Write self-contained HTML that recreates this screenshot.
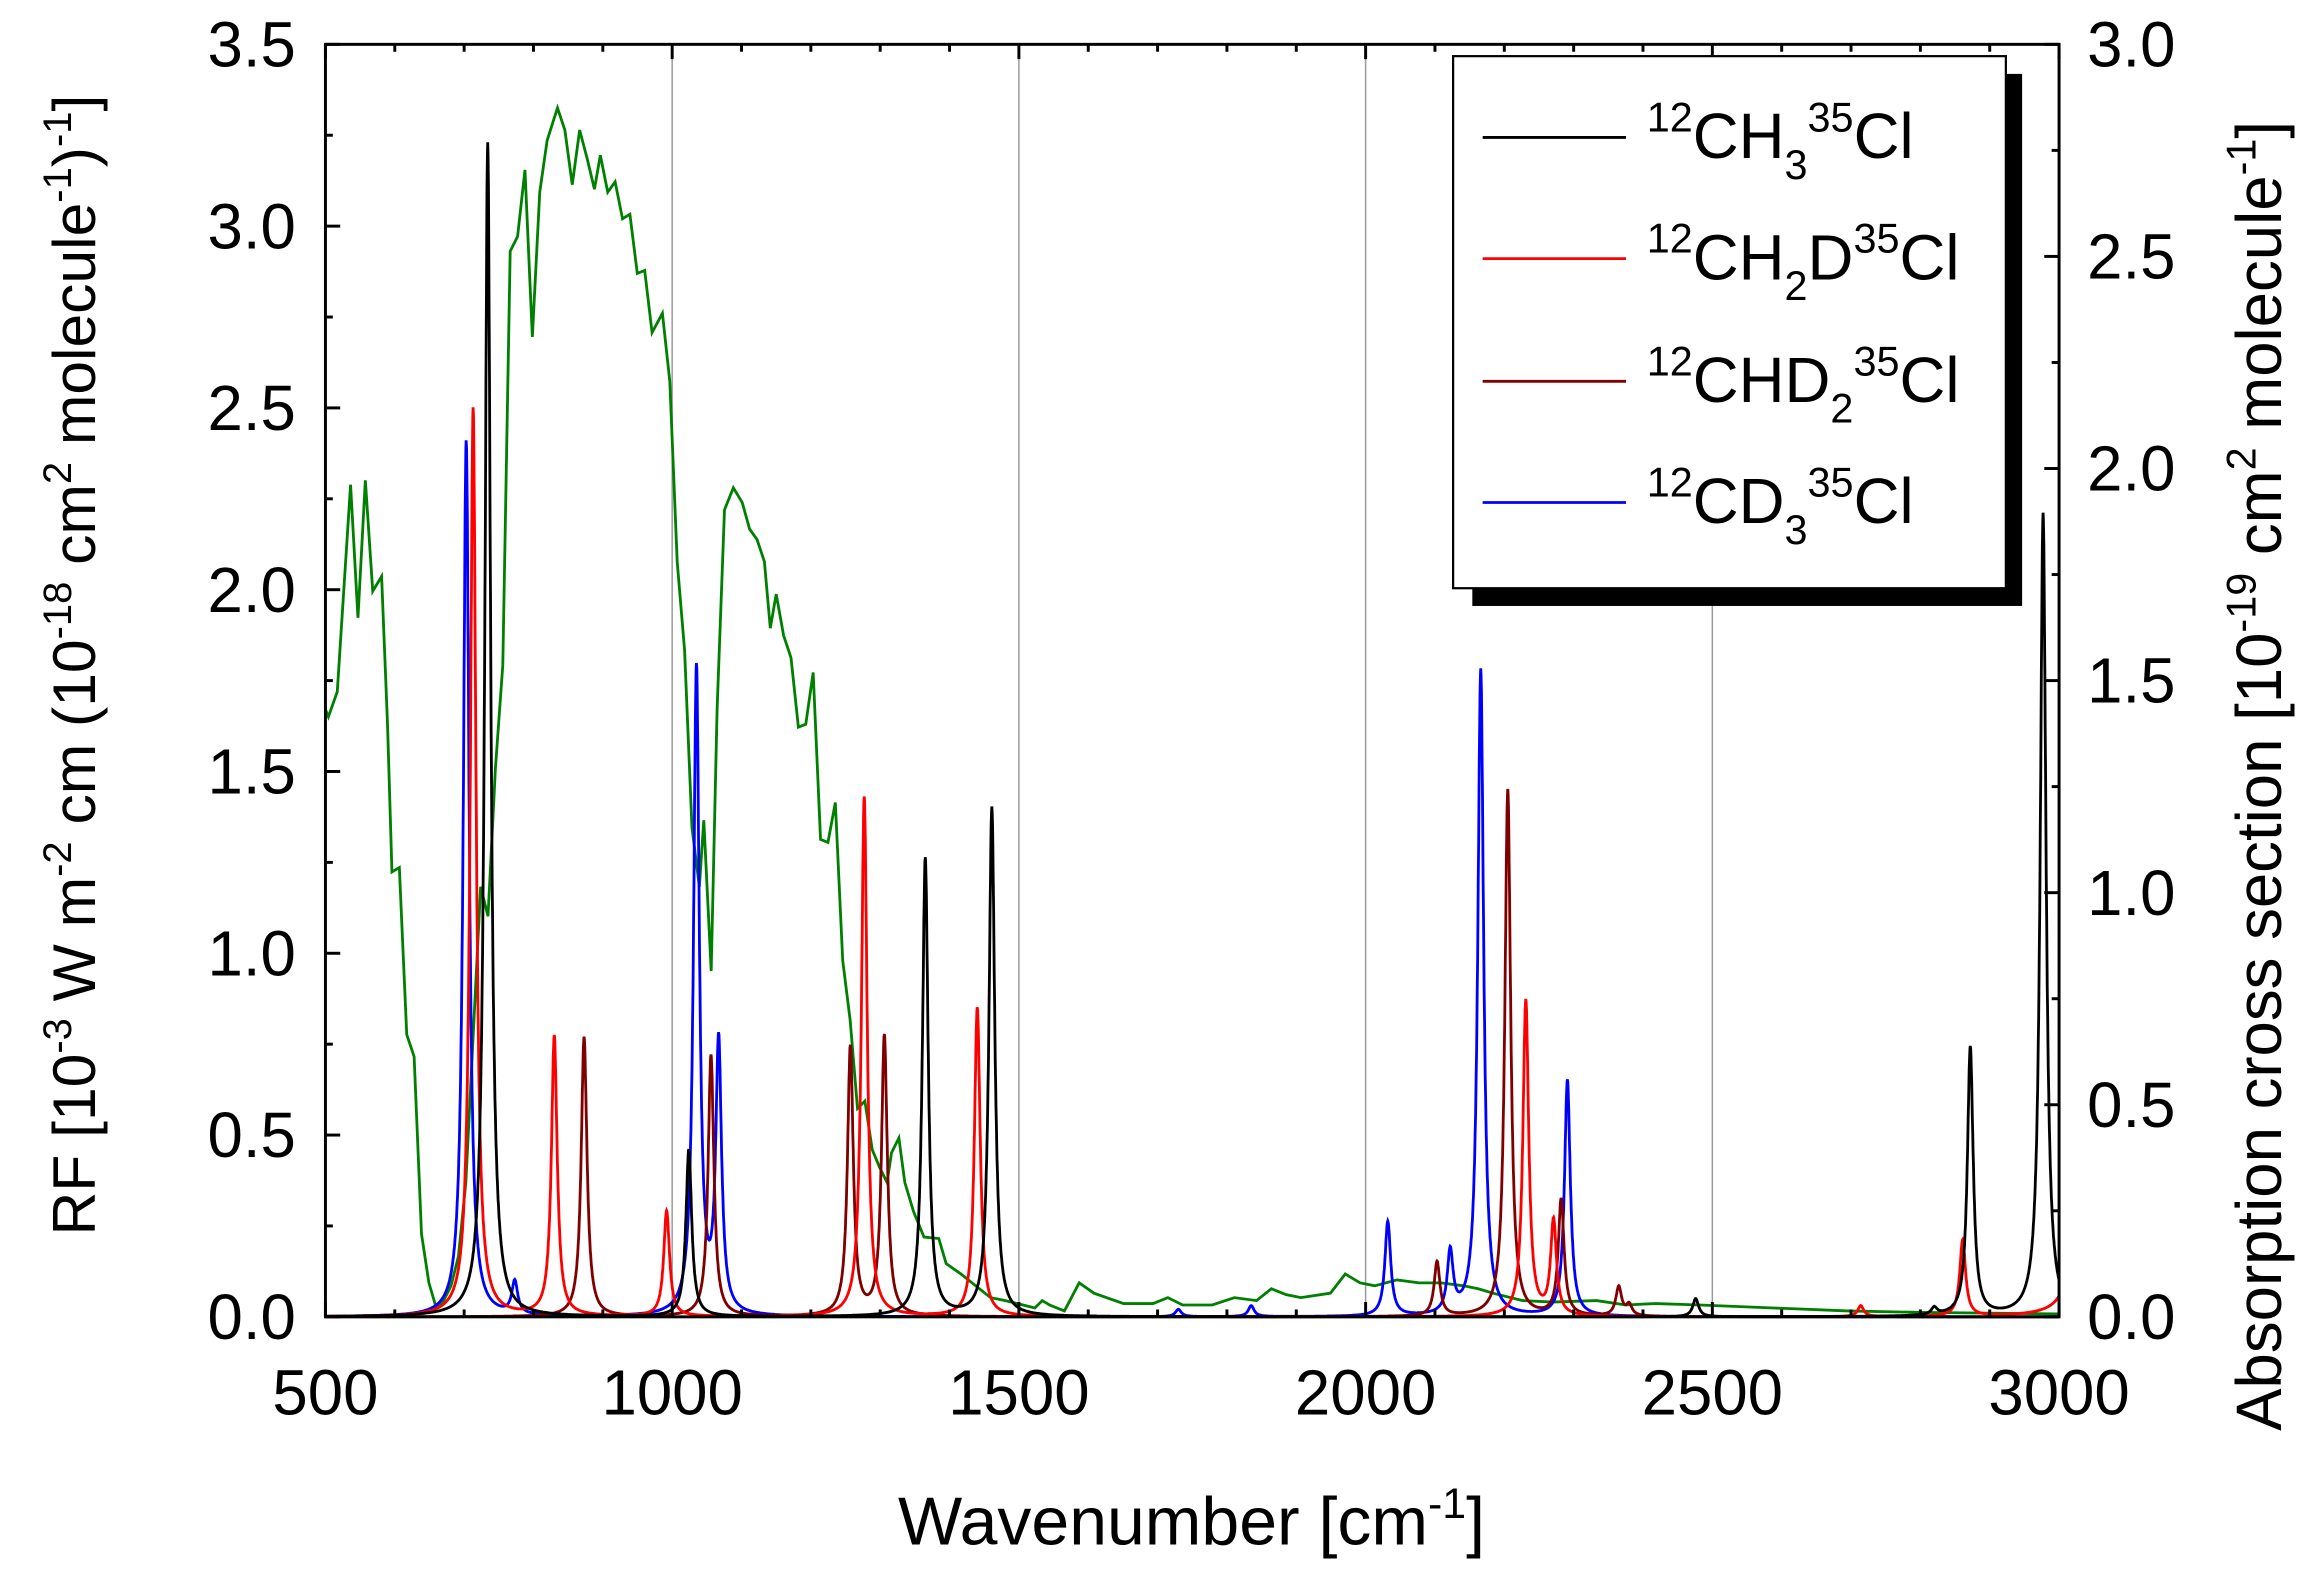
<!DOCTYPE html>
<html><head><meta charset="utf-8"><style>
html,body{margin:0;padding:0;background:#fff;}
svg{display:block;}
text{font-family:"Liberation Sans",Arial,sans-serif;fill:#000;}
</style></head><body>
<svg id="s" width="2318" height="1574" viewBox="0 0 1568 1065" xmlns="http://www.w3.org/2000/svg">
<rect width="1568" height="1065" fill="#fff"/>
<g id="grid" stroke="#999" stroke-width="1"></g>
<g id="series" fill="none" stroke-width="1.9"></g>
<rect x="220" y="30" width="1173" height="861" fill="none" stroke="#000" stroke-width="2"/>
<g id="ticks" stroke="#000" stroke-width="2"></g>
<g id="labels" font-size="43"></g>
<text x="806" y="1045" font-size="46" text-anchor="middle">Wavenumber [cm<tspan dy="-18" font-size="29">-1</tspan><tspan dy="18">]</tspan></text>
<text transform="translate(64,450) rotate(-90)" font-size="41" text-anchor="middle">RF [10<tspan dy="-16" font-size="27">-3</tspan><tspan dy="16"> W m</tspan><tspan dy="-16" font-size="27">-2</tspan><tspan dy="16"> cm (10</tspan><tspan dy="-16" font-size="27">-18</tspan><tspan dy="16"> cm</tspan><tspan dy="-16" font-size="27">2</tspan><tspan dy="16"> molecule</tspan><tspan dy="-16" font-size="27">-1</tspan><tspan dy="16">)</tspan><tspan dy="-16" font-size="27">-1</tspan><tspan dy="16">]</tspan></text>
<text transform="translate(1543,525) rotate(-90)" font-size="43" text-anchor="middle">Absorption cross section [10<tspan dy="-17" font-size="28">-19</tspan><tspan dy="17"> cm</tspan><tspan dy="-17" font-size="28">2</tspan><tspan dy="17"> molecule</tspan><tspan dy="-17" font-size="28">-1</tspan><tspan dy="17">]</tspan></text>
<rect x="996" y="50" width="372" height="360" fill="#000"/>
<rect x="983" y="38" width="374" height="360" fill="#fff" stroke="#000" stroke-width="1.5"/>
<g font-size="43">
<line x1="1003" y1="93" x2="1100" y2="93" stroke="#000" stroke-width="1.9"/>
<text x="1114" y="107"><tspan dy="-18" font-size="28">12</tspan><tspan dy="18">CH</tspan><tspan dy="14" font-size="28">3</tspan><tspan dy="-32" font-size="28">35</tspan><tspan dy="18">Cl</tspan></text>
<line x1="1003" y1="175" x2="1100" y2="175" stroke="#f00" stroke-width="1.9"/>
<text x="1114" y="189"><tspan dy="-18" font-size="28">12</tspan><tspan dy="18">CH</tspan><tspan dy="14" font-size="28">2</tspan><tspan dy="-14">D</tspan><tspan dy="-18" font-size="28">35</tspan><tspan dy="18">Cl</tspan></text>
<line x1="1003" y1="258" x2="1100" y2="258" stroke="#800000" stroke-width="1.9"/>
<text x="1114" y="272"><tspan dy="-18" font-size="28">12</tspan><tspan dy="18">CHD</tspan><tspan dy="14" font-size="28">2</tspan><tspan dy="-32" font-size="28">35</tspan><tspan dy="18">Cl</tspan></text>
<line x1="1003" y1="340" x2="1100" y2="340" stroke="#00f" stroke-width="1.9"/>
<text x="1114" y="354"><tspan dy="-18" font-size="28">12</tspan><tspan dy="18">CD</tspan><tspan dy="14" font-size="28">3</tspan><tspan dy="-32" font-size="28">35</tspan><tspan dy="18">Cl</tspan></text>
</g>
<script>
(function(){
var NS="http://www.w3.org/2000/svg";
function X(w){return 220+(w-500)/500*234.6;}
function Y(v){return 891-v/0.5*123;}
function YR(v){return 891-v/0.5*143.5;}
function el(p,t,a){var e=document.createElementNS(NS,t);for(var k in a)e.setAttribute(k,a[k]);p.appendChild(e);return e;}
var g=document.getElementById('grid'),tk=document.getElementById('ticks'),lb=document.getElementById('labels');
[1000,1500,2000,2500].forEach(function(w){el(g,'line',{x1:X(w),y1:30,x2:X(w),y2:891});});
for(var w=500;w<=3000;w+=100){var maj=(w%500==0),L=maj?10:5;
 el(tk,'line',{x1:X(w),y1:891,x2:X(w),y2:891-L});el(tk,'line',{x1:X(w),y1:30,x2:X(w),y2:30+L});
 if(maj){var t=el(lb,'text',{x:X(w),y:957,'text-anchor':'middle'});t.textContent=w;}}
for(var v=0;v<=3.5001;v+=0.25){var maj=Math.abs(v*2-Math.round(v*2))<1e-6,L=maj?10:5;
 el(tk,'line',{x1:220,y1:Y(v),x2:220+L,y2:Y(v)});
 if(maj){var t=el(lb,'text',{x:200,y:Y(v)+15,'text-anchor':'end'});t.textContent=v.toFixed(1);}}
for(var v=0;v<=3.0001;v+=0.25){var maj=Math.abs(v*2-Math.round(v*2))<1e-6,L=maj?10:5;
 el(tk,'line',{x1:1393,y1:YR(v),x2:1393-L,y2:YR(v)});
 if(maj){var t=el(lb,'text',{x:1412,y:YR(v)+15,'text-anchor':'start'});t.textContent=v.toFixed(1);}}
var S=document.getElementById('series');
var gp=[[220,480],[222,485],[228,468],[237,328],[242,418],[247,325],[252,400],[258,390],[262,490],[265,590],[270,587],[275,700],[280,715],[285,835],[290,868],[295,885],[300,880],[305,870],[310,850],[315,800],[320,700],[325,600],[330,620],[335,520],[340,450],[345,170],[350,160],[355,115],[360,228],[365,130],[370,95],[377,73],[382,88],[387,125],[392,88],[397,107],[402,128],[406,105],[411,130],[416,123],[421,148],[426,145],[431,185],[436,183],[441,225],[448,212],[453,258],[458,380],[463,440],[468,560],[473,600],[476,555],[481,657],[485,480],[490,345],[496,330],[502,340],[507,358],[512,365],[517,380],[521,425],[525,402],[530,430],[535,445],[540,492],[545,490],[550,455],[555,568],[560,570],[565,543],[570,650],[575,690],[580,750],[585,745],[590,778],[595,790],[600,800],[603,780],[608,770],[612,800],[618,820],[625,837],[635,838],[640,855],[650,862],[660,870],[670,878],[680,880],[700,885],[705,880],[710,883],[720,887],[730,868],[740,875],[760,882],[780,882],[790,878],[800,883],[820,883],[835,878],[850,880],[860,872],[870,876],[880,878],[900,875],[910,862],[920,868],[930,870],[945,866],[960,868],[975,868],[990,870],[1000,872],[1010,875],[1030,880],[1050,881],[1080,880],[1100,883],[1120,882],[1150,883],[1200,885],[1250,887],[1300,888],[1393,889]];
el(S,'polyline',{points:gp.map(function(p){return p.join(',')}).join(' '),stroke:'#008000'});
function series(peaks,col){var pts=[];for(var w=500;w<=3000;w+=0.5){var v=0;peaks.forEach(function(p){var gm=p[2]||5;var d=(w-p[0])/gm;v+=p[1]/(1+d*d);});pts.push(X(w).toFixed(1)+','+Math.max(30,Y(v)).toFixed(1));}
 el(S,'polyline',{points:pts.join(' '),stroke:col});}
series([[703,2.41],[773,0.09],[1035,1.78],[1067,0.74],[1730,0.02],[1835,0.03],[2032,0.26],[2122,0.17],[2166,1.78],[2291,0.65]],'#00f');
series([[873,0.77],[1056,0.72],[1257,0.74],[1306,0.77],[2103,0.15],[2205,1.45],[2282,0.32],[2365,0.08],[2380,0.03]],'#800000');
series([[713,2.5],[830,0.77],[992,0.29],[1277,1.43],[1440,0.85],[2231,0.87],[2271,0.26],[2714,0.03],[2861,0.21],[3035,2.0,6]],'#f00');
series([[734,3.23],[1024,0.46],[1365,1.26],[1461,1.40],[2476,0.05],[2820,0.02],[2872,0.74],[2977,2.21]],'#000');
})();
</script>
</svg>
</body></html>
